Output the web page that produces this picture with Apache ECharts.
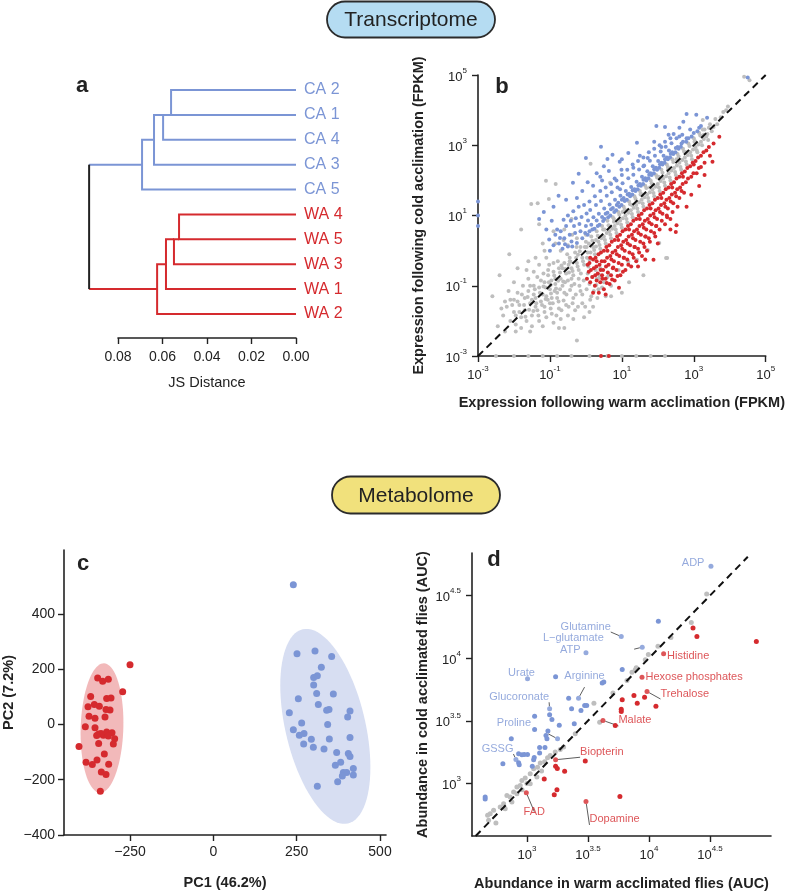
<!DOCTYPE html>
<html lang="en">
<head>
<meta charset="UTF-8">
<title>Transcriptome and metabolome</title>
<script src="https://cdn.jsdelivr.net/npm/echarts@6/dist/echarts.min.js"></script>
<style>
  html, body { margin: 0; padding: 0; background: #fff; }
  #main { width: 787px; height: 892px; }
</style>
</head>
<body>
<div id="main"></div>
<script>
const FONT = '"Liberation Sans", Arial, sans-serif';
const BLUE = '#7b95d5', RED = '#d52a2e', GREY = '#bebebe', INK = '#222';

// ---- (a) dendrogram, leaves listed top to bottom
const leaves = ['CA 2', 'CA 1', 'CA 4', 'CA 3', 'CA 5', 'WA 4', 'WA 5', 'WA 3', 'WA 1', 'WA 2'];
// hclust style: negative = leaf (1-based), positive = earlier merge; last = JS distance
const merges = [
  [-1, -2, 0.0564], [1, -3, 0.0600], [2, -4, 0.0641], [3, -5, 0.0695],
  [-6, -7, 0.0528], [5, -8, 0.0551], [6, -9, 0.0587], [7, -10, 0.0627],
  [4, 8, 0.0934]
];
const jsTicks = [0, 0.02, 0.04, 0.06, 0.08];

// ---- (b) log10 FPKM, [warm, cold]
const bRange = [-3, 5];
const bTicks = [-3, -1, 1, 3, 5];
const bGrey = [
  [-1.45,-1.25],[-1.4,-1.6],[-1.3,-1.05],[-1.25,-1.45],[-1.15,-0.9],[-1.1,-1.3],[-1.05,-0.7],[-1.0,-1.1],[-0.95,-1.35],
  [-0.9,-0.6],[-0.85,-0.95],[-0.8,-1.2],[-0.75,-0.5],[-0.7,-0.8],[-0.65,-1.0],[-0.6,-0.35],[-0.55,-0.65],[-0.5,-0.85],
  [-0.45,-0.2],[-0.4,-0.5],[-0.35,-0.7],[-0.3,-0.05],[-0.25,-0.35],[-0.2,-0.55],[-0.15,0.1],[-0.1,-0.2],[-0.05,-0.4],
  [0.0,0.25],[0.05,-0.05],[0.1,-0.25],[0.15,0.4],[0.2,0.1],[0.25,-0.1],[0.3,0.55],[0.35,0.25],[0.4,0.05],[0.45,0.7],
  [0.5,0.4],[0.55,0.2],[0.6,0.85],[0.65,0.55],[0.7,0.35],[0.75,0.95],[0.8,0.7],[0.85,0.5],[0.9,1.1],[0.95,0.85],
  [1.0,0.65],[1.05,1.25],[1.1,1.0],[1.15,0.8],[1.2,1.4],[1.25,1.15],[1.3,0.95],[1.35,1.55],[1.4,1.3],[1.45,1.1],
  [1.5,1.7],[1.55,1.45],[1.6,1.25],[1.65,1.85],[1.7,1.6],[1.75,1.4],[1.8,2.0],[1.85,1.75],[1.9,1.55],[1.95,2.15],
  [2.0,1.9],[2.05,1.7],[2.1,2.3],[2.15,2.05],[2.2,1.85],[2.25,2.45],[2.3,2.2],[2.35,2.0],[2.4,2.6],[2.45,2.35],
  [2.5,2.15],[2.55,2.75],[2.6,2.5],[2.65,2.3],[2.7,2.9],[2.75,2.65],[2.8,2.45],[2.85,3.05],[2.9,2.8],[2.95,2.6],
  [3.0,3.2],[3.05,2.95],[3.1,2.8],[3.15,3.35],[3.2,3.1],[3.3,3.45],[3.35,3.25],[3.45,3.6],[3.5,3.4],[3.6,3.75],
  [3.75,3.8],[3.9,4.0],[4.4,4.95],[4.55,4.85],
  [-0.98,-0.98],[-0.72,-0.62],[-0.48,-0.4],[-0.22,-0.12],[0.02,0.1],[0.28,0.3],[0.52,0.6],[0.78,0.82],[1.02,1.1],
  [1.28,1.3],[1.52,1.6],[1.78,1.8],[2.02,2.1],[2.28,2.3],[2.52,2.6],[2.78,2.8],[3.02,3.1],[3.28,3.3],
  [-1.18,-1.02],[-1.12,-1.38],[-1.03,-0.9],[-0.97,-1.22],[-0.88,-0.71],[-0.83,-1.08],[-0.77,-0.86],[-0.68,-0.42],
  [-0.63,-0.88],[-0.57,-0.52],[-0.47,-0.62],[-0.43,-0.32],[-0.37,-0.58],[-0.27,-0.2],[-0.23,-0.45],[-0.17,-0.02],
  [-0.08,-0.3],[-0.03,0.1],[0.03,-0.2],[0.08,0.2],[0.13,-0.05],[0.18,0.28],[0.23,0.02],[0.28,0.12],[0.33,0.42],
  [0.38,0.16],[0.43,0.35],[0.48,0.6],[0.53,0.3],[0.58,0.5],[0.63,0.72],[0.68,0.45],[0.73,0.62],[0.78,0.9],
  [0.83,0.6],[0.88,0.78],[0.93,1.02],[0.98,0.74],[1.03,0.92],[1.08,1.18],[1.13,0.9],[1.18,1.08],[1.23,1.32],
  [1.28,1.04],[1.33,1.22],[1.38,1.48],[1.43,1.2],[1.48,1.38],[1.53,1.62],[1.58,1.34],[1.63,1.52],[1.68,1.78],
  [1.73,1.5],[1.78,1.66],[1.83,1.92],[1.88,1.64],[1.93,1.82],[1.98,2.08],[2.03,1.8],[2.08,1.98],[2.13,2.22],
  [2.18,1.94],[2.23,2.12],[2.28,2.38],[2.33,2.08],[2.38,2.28],[2.43,2.52],[2.48,2.24],[2.53,2.42],[2.58,2.68],
  [2.63,2.38],[2.68,2.58],[2.73,2.82],[2.78,2.54],[2.83,2.72],[2.88,2.98],[2.93,2.7],[2.98,2.88],[3.03,3.12],
  [3.08,2.86],[3.13,3.02],[3.18,3.28],[3.23,3.0],[3.28,3.18],[3.38,3.32],[3.42,3.5],[3.55,3.52],[3.65,3.6],
  [3.82,3.95],[3.95,4.1],[3.4,3.15],[3.25,3.45],
  [-2.3,-1.85],[-2.2,-1.6],[-2.1,-2.0],[-2.0,-1.4],[-2.0,-1.75],[-1.95,-2.1],[-1.9,-1.2],[-1.85,-1.55],[-1.8,-1.9],
  [-1.8,-2.2],[-1.75,-1.0],[-1.7,-1.35],[-1.7,-1.7],[-1.65,-2.0],[-1.6,-0.8],[-1.6,-1.15],[-1.55,-1.5],[-1.5,-1.85],
  [-1.5,-2.15],[-1.45,-0.6],[-1.45,-1.0],[-1.4,-1.35],[-1.35,-1.7],[-1.3,-2.0],[-1.3,-0.4],[-1.25,-0.85],[-1.2,-1.25],
  [-1.15,-1.6],[-1.1,-1.9],[-1.1,-0.2],[-1.05,-0.55],[-1.0,-1.5],[-0.95,-1.8],[-0.9,-2.05],[-0.9,-0.35],[-0.85,-0.8],
  [-0.8,-1.35],[-0.75,-1.65],[-0.7,-1.95],[-0.7,0.0],[-0.65,-0.5],[-0.6,-1.2],[-0.55,-1.55],[-0.5,-1.85],[-0.5,0.15],
  [-0.45,-0.3],[-0.4,-1.0],[-0.35,-1.35],[-0.3,-1.7],[-0.25,0.35],[-0.2,-0.8],[-0.15,-1.15],[-0.1,-1.5],[-0.05,-1.9],
  [0.0,0.45],[0.05,-0.65],[0.1,-0.95],[0.15,-1.3],[0.2,-1.6],[0.3,-0.8],[0.35,-1.1],[0.4,-0.5],[0.5,-0.9],[0.55,-1.3],
  [-2.05,-1.55],[-1.95,-1.85],[-1.9,-1.45],[-1.85,-1.75],[-1.78,-1.25],[-1.72,-1.55],[-1.68,-1.88],[-1.62,-1.32],
  [-1.58,-1.68],[-1.55,-1.0],[-1.5,-1.4],[-1.46,-1.72],[-1.42,-1.1],[-1.38,-1.5],[-1.35,-0.75],[-1.32,-1.85],
  [-1.28,-1.2],[-1.22,-1.55],[-1.18,-0.65],[-1.15,-1.75],[-1.12,-1.05],[-1.06,-1.4],[-1.02,-0.4],[-0.98,-1.65],
  [-0.96,-0.85],[-0.92,-1.5],[-0.87,-1.15],[-0.82,-1.85],[-0.78,-0.3],[-0.76,-1.45],[-0.72,-1.1],[-0.68,-1.7],
  [-0.62,-1.42],[-0.58,-0.9],[-0.54,-1.25],[-0.52,-0.1],[-0.48,-1.6],[-0.44,-1.12],[-0.4,-0.8],[-0.37,-1.5],
  [-0.32,-0.95],[-0.28,-1.25],[-0.26,0.1],[-0.22,-1.6],[-0.18,-1.0],[-0.14,-0.65],[-0.1,-1.25],[-0.06,-0.85],
  [-0.02,-1.6],[0.02,-1.1],[0.07,-0.45],[0.12,-1.4],[0.17,-0.75],[0.22,-1.15],[0.27,-0.55],[0.32,-1.35],
  [0.38,-0.7],[0.45,-1.05],[0.6,-0.75],[0.7,-1.0],[-1.65,-0.55],[-1.4,-0.2],[-1.15,0.0],[-0.85,0.2],[-0.62,0.3],
  [-0.38,0.45],[-2.25,-1.45],[-2.15,-1.15],[-2.35,-1.65],[-1.95,-2.3],[-1.55,-2.3],[-1.2,-2.15],[-0.75,-2.2],
  [-0.35,-1.95],[0.1,-1.75],
  [-2.6,-1.3],[-2.45,-2.15],[-2.0,-0.9],[-1.6,-0.3],[-1.2,0.2],[-0.9,0.55],[-0.6,0.6],[-2.4,-0.7],[-1.8,0.6],[-2.13,-0.1],
  [-2.1,-1.4],[-1.11,1.99],[-0.84,1.9],[-1.52,1.33],[-1.34,1.35],[-1.03,1.47],[0.13,2.47],[0.67,1.93],[3.25,3.72],
  [-0.25,-2.56],[-1.3,0.75],[-0.4,0.9],[-1.9,-0.5],[-2.25,-2.3],[-0.6,-2.2],
  [0.29,-0.98],[0.37,-0.78],[0.64,-0.69],[0.91,-0.55],[1.18,-0.32],[1.42,-0.26],[1.72,0.02],[2.04,0.22],[2.23,-0.21],
  [1.2,-0.9],[1.0,-1.2],[0.7,-1.3],[1.6,-0.7],[2.26,-0.21],
  [-2.5,-3],[-2.0,-3],[-1.6,-3],[-1.2,-3],[-0.8,-3],[-0.4,-3],[0.1,-3],[0.6,-3],[1.0,-3],[1.4,-3],[1.8,-3],[2.2,-3]
];
const bBlue = [
  [-1.17,1.1],[-0.76,1.56],[-0.36,1.93],[-0.2,2.19],[0.0,2.64],[0.42,2.96],[0.5,2.4],[1.42,3.07],[1.96,3.55],
  [2.2,3.52],[2.8,3.89],[3.07,3.87],[3.37,3.78],[2.71,3.67],[2.44,3.32],[0.6,2.61],[0.74,2.73],[0.94,2.53],
  [1.18,2.78],[1.72,2.64],[0.64,2.27],[0.99,2.3],[0.4,2.1],[1.32,2.36],[4.5,4.93],[-1.3,0.9],[-0.9,1.25],
  [-0.55,1.45],[-0.1,1.7],[0.2,1.85],[0.3,2.2],[0.8,2.05],[1.0,2.6],[1.5,2.7],[1.9,3.1],[2.3,3.3],[2.6,3.5],
  [-3,1.0],[-3,0.7],[-3,1.4],
  [-1.0,0.0],[-1.02,0.32],[-0.9,0.15],[-0.85,0.45],[-0.75,0.2],[-0.7,0.55],[-0.72,0.36],[-0.6,0.35],[-0.55,0.7],
  [-0.58,0.18],[-0.45,0.45],[-0.42,0.85],[-0.4,0.26],[-0.3,0.5],[-0.28,0.92],[-0.33,0.7],[-0.15,0.55],[-0.12,0.96],
  [-0.18,0.76],[0.0,0.7],[0.02,1.06],[-0.02,0.5],[0.06,0.86],[0.15,0.74],[0.12,1.16],[0.18,0.6],[0.21,0.95],
  [0.3,0.86],[0.28,1.3],[0.33,0.7],[0.36,1.05],[0.45,0.96],[0.42,1.41],[0.48,0.84],[0.51,1.2],[0.6,1.08],
  [0.58,1.56],[0.62,0.95],[0.66,1.31],[0.75,1.21],[0.72,1.66],[0.79,1.1],[0.81,1.45],[0.9,1.36],[0.88,1.8],
  [0.93,1.25],[0.96,1.56],[1.05,1.5],[1.02,1.92],[1.08,1.41],[1.11,1.7],[1.2,1.62],[1.18,2.06],[1.23,1.55],
  [1.26,1.81],[1.35,1.75],[1.32,2.16],[1.38,1.7],[1.41,1.96],[1.5,1.9],[1.48,2.31],[1.53,1.85],[1.56,2.1],
  [1.65,2.06],[1.62,2.42],[1.68,2.0],[1.71,2.26],[1.8,2.2],[1.78,2.56],[1.83,2.15],[1.86,2.4],[1.95,2.36],
  [1.92,2.7],[1.98,2.3],[2.01,2.55],[2.1,2.5],[2.08,2.82],[2.13,2.45],[2.16,2.7],[2.25,2.65],[2.22,2.96],
  [2.28,2.6],[2.31,2.85],[2.4,2.8],[2.38,3.06],[2.43,2.75],[2.55,2.95],[2.52,3.2],[2.58,2.9],[2.7,3.1],
  [2.68,3.3],[2.85,3.2],[2.9,3.45],[3.0,3.35],[3.15,3.5],
  [-0.65,0.05],[-0.5,0.12],[-0.38,0.12],[-0.25,0.22],[-0.1,0.35],[0.05,0.45],[0.1,0.55],[0.24,0.62],[0.38,0.74],
  [0.52,0.9],[0.55,1.05],[0.68,1.0],[0.7,1.18],[0.84,1.15],[0.86,1.3],[0.99,1.3],[1.0,1.45],[1.14,1.45],[1.16,1.6],
  [1.29,1.6],[1.3,1.72],[1.44,1.75],[1.46,1.86],[1.59,1.9],[1.6,2.02],[1.74,2.06],[1.76,2.16],[1.89,2.2],[1.9,2.32],
  [2.04,2.36],[2.06,2.46],[2.19,2.5],[2.2,2.6],[2.34,2.66],[2.36,2.76],[2.49,2.8],[2.5,2.92],[2.64,2.96],[2.66,3.05],
  [2.79,3.1],[2.8,3.2],[2.94,3.25],[3.1,3.4],[3.2,3.55],[-0.8,0.6],[-0.62,0.88],[-0.5,1.0],[-0.35,1.12],[-0.2,1.25],
  [-0.05,1.3],[0.1,1.4],[0.25,1.55],[0.4,1.7],[0.55,1.8],[0.7,1.9],[0.85,2.0],[1.0,2.15],[1.15,2.3],[1.3,2.45],
  [1.45,2.55],[1.6,2.65],[1.75,2.8],[1.9,2.9],[2.05,3.0],[2.2,3.1],[2.35,3.2],[-0.25,1.5],[0.05,1.95],[0.45,2.0],
  [0.95,1.75],[1.6,2.4],[2.1,2.95],[2.6,3.25],[-1.1,0.6],[-0.95,0.85]
];
const bRed = [
  [0.05,-0.4],[0.08,-0.6],[0.03,-0.8],[0.2,-0.25],[0.22,-0.5],[0.18,-0.75],[0.25,-1.0],[0.35,-0.1],[0.38,-0.4],
  [0.33,-0.65],[0.4,-0.9],[0.36,-1.2],[0.5,0.0],[0.52,-0.3],[0.48,-0.55],[0.55,-0.8],[0.5,-1.1],[0.65,0.15],
  [0.68,-0.15],[0.63,-0.4],[0.7,-0.7],[0.66,-0.95],[0.8,0.3],[0.82,0.0],[0.78,-0.3],[0.85,-0.55],[0.8,-0.85],
  [0.92,-1.06],[0.95,0.45],[0.98,0.15],[0.93,-0.15],[1.0,-0.4],[0.96,-0.7],[1.1,0.6],[1.12,0.3],[1.08,0.0],
  [1.15,-0.25],[1.1,-0.55],[1.25,0.75],[1.28,0.45],[1.23,0.15],[1.3,-0.1],[1.26,-0.45],[1.4,0.9],[1.42,0.6],
  [1.38,0.3],[1.45,0.05],[1.4,-0.3],[1.55,1.05],[1.58,0.75],[1.53,0.45],[1.6,0.2],[1.56,-0.15],[1.7,1.2],
  [1.72,0.9],[1.68,0.6],[1.75,0.35],[1.7,0.0],[1.85,1.35],[1.88,1.05],[1.83,0.75],[1.9,0.5],[1.88,-0.26],
  [2.0,1.5],[2.02,1.2],[1.98,0.9],[2.05,0.6],[2.15,1.65],[2.18,1.35],[2.13,1.05],[2.2,0.75],[2.3,1.8],
  [2.32,1.5],[2.28,1.2],[2.35,0.9],[2.45,1.95],[2.48,1.65],[2.43,1.35],[2.5,0.53],[2.52,0.72],[2.6,2.1],
  [2.62,1.8],[2.6,1.5],[2.75,2.25],[2.78,1.95],[2.73,1.65],[2.9,2.4],[2.93,2.1],[2.93,1.59],[3.05,2.55],
  [3.08,2.2],[3.2,2.7],[3.2,2.38],[3.15,1.84],[3.35,2.85],[3.52,2.53],[3.55,3.05],[3.71,3.24],
  [0.12,-0.2],[0.3,-0.3],[0.6,0.0],[0.9,0.3],[1.2,0.6],[1.5,0.9],[1.8,1.2],[2.1,1.5],[2.4,1.8],[2.7,2.1],
  [3.0,2.45],[0.45,-0.7],[0.75,-0.5],[1.05,-0.2],[1.35,0.1],[1.65,0.4],[1.95,0.7],[2.25,1.0],[2.55,1.25],
  [0.1,-0.35],[0.14,-0.55],[0.12,-0.9],[0.27,-0.2],[0.29,-0.45],[0.26,-0.7],[0.3,-0.85],[0.42,-0.05],[0.44,-0.3],
  [0.41,-0.55],[0.46,-0.8],[0.57,0.1],[0.59,-0.2],[0.56,-0.45],[0.61,-0.62],[0.58,-0.92],[0.72,0.25],[0.74,-0.05],
  [0.71,-0.25],[0.76,-0.48],[0.73,-0.82],[0.87,0.4],[0.89,0.1],[0.86,-0.1],[0.91,-0.35],[0.88,-0.72],[1.02,0.55],
  [1.04,0.25],[1.01,0.05],[1.06,-0.2],[1.03,-0.6],[1.17,0.7],[1.19,0.4],[1.16,0.2],[1.21,-0.05],[1.18,-0.4],
  [1.32,0.85],[1.34,0.55],[1.31,0.35],[1.36,0.1],[1.33,-0.2],[1.47,1.0],[1.49,0.7],[1.46,0.5],[1.51,0.25],
  [1.48,-0.05],[1.62,1.15],[1.64,0.85],[1.61,0.65],[1.66,0.4],[1.63,0.1],[1.77,1.3],[1.79,1.0],[1.76,0.8],
  [1.81,0.55],[1.78,0.25],[1.92,1.45],[1.94,1.15],[1.91,0.95],[1.96,0.7],[1.93,0.4],[2.07,1.6],[2.09,1.3],
  [2.06,1.1],[2.11,0.85],[2.22,1.75],[2.24,1.45],[2.21,1.25],[2.26,0.95],[2.37,1.9],[2.39,1.6],[2.36,1.4],
  [2.41,1.1],[2.52,2.05],[2.54,1.75],[2.51,1.55],[2.67,2.2],[2.69,1.9],[2.66,1.7],[2.82,2.35],[2.84,2.05],
  [2.97,2.5],[2.99,2.2],[3.12,2.65],[3.14,2.35],[3.27,2.8],[3.3,2.5],[3.42,2.95],[3.45,2.7],[0.2,-1.2],
  [0.55,-1.25],[1.45,-0.45],[1.65,-0.25],[2.0,0.2],[2.35,0.6],[2.8,1.25],[3.3,2.15],
  [0.42,-3],[0.64,-3]
];

// ---- (c) PCA scores [PC1, PC2]
const cTicksX = [-250, 0, 250, 500];
const cTicksY = [-400, -200, 0, 200, 400];
const cRed = [
  [-250,216],[-272,118],[-403,-80],[-347,168],[-332,156],[-315,163],[-368,101],[-376,64],[-357,72],[-342,66],
  [-320,94],[-307,96],[-322,54],[-310,52],[-373,30],[-355,22],[-325,27],[-384,-8],[-355,-12],[-344,-35],
  [-330,-39],[-320,-27],[-304,-30],[-296,-52],[-300,-71],[-344,-69],[-327,-107],[-382,-137],[-363,-145],
  [-349,-129],[-314,-144],[-336,-172],[-322,-181],[-339,-242],[-337,-33],[-315,-42],[-350,-40]
];
const cBlue = [
  [240,505],[251,256],[305,266],[355,246],[324,207],[301,170],[312,176],[301,143],[310,112],[360,110],
  [255,93],[315,72],[340,51],[347,54],[410,49],[228,42],[403,27],[265,5],[343,0],[240,-19],[258,-39],
  [272,-33],[294,-54],[348,-53],[410,-47],[271,-71],[300,-83],[332,-89],[370,-102],[405,-105],[410,-116],
  [382,-137],[366,-148],[420,-159],[390,-174],[400,-174],[387,-187],[420,-183],[373,-207],[312,-224]
];
// group ellipses: centre, end of major semi-axis, minor semi-axis (PC1 units)
const cEllipses = [
  { group: 'warm', center: [-334, -13], majorEnd: [-328, 221], minor: 64 },
  { group: 'cold', center: [336, -7], majorEnd: [268, 344], minor: 120 }
];

// ---- (d) log10 AUC, [warm, cold]
const dRange = [2.58, 4.81];
const dTicks = [3, 3.5, 4, 4.5];
const dGrey = [
  [2.727,2.785],[2.678,2.745],[2.746,2.684],[2.686,2.705],[2.809,2.838],[2.781,2.811],[2.836,2.904],[2.863,2.891],
  [2.891,2.931],[2.918,2.971],[2.945,2.984],[2.959,3.024],[2.986,3.043],[3.027,3.077],[3.055,3.117],[3.087,3.130],
  [3.109,3.162],[3.145,3.173],[3.169,3.205],[3.191,3.223],[3.232,3.250],[3.273,3.271],[3.301,3.290],[3.396,3.396],
  [3.549,3.641],[3.596,3.489],[3.705,3.721],[3.820,3.822],[3.896,3.923],[3.995,4.029],[4.074,4.096],[4.180,4.165],
  [4.347,4.285],[4.473,4.513],[3.888,3.907],[3.970,3.987],[3.861,3.888],[2.918,2.918],[2.877,2.851],[3.027,2.997],
  [3.082,3.051],[2.699,2.758],[2.822,2.798],[2.96,2.95],[3.0,3.0],[3.12,3.1]
];
const dBlue = [
  [4.077,4.295],[3.781,3.910],[3.235,3.851],[3.617,3.801],[3.63,3.81],[3.342,3.681],[3.063,3.537],[3.186,3.548],
  [3.205,3.511],[3.265,3.465],[3.366,3.596],[3.443,3.582],[3.473,3.622],[3.49,3.622],[3.388,3.476],[3.063,3.431],
  [3.172,3.418],[3.156,3.383],[3.164,3.356],[2.872,3.356],[3.104,3.287],[3.148,3.287],[3.104,3.242],[2.932,3.237],
  [2.959,3.229],[2.978,3.231],[3.005,3.231],[2.932,3.165],[2.937,3.149],[2.803,3.157],[3.060,3.207],[3.055,3.189],
  [3.044,3.138],[2.658,2.891],[2.658,2.875]
];
const dRed = [
  [4.880,4.133],[4.361,4.242],[4.393,4.173],[3.877,3.702],[3.964,3.689],[3.904,3.641],[4.057,3.617],[3.781,3.668],
  [3.773,3.593],[3.773,3.574],[3.724,3.463],[3.478,3.178],[3.235,3.138],[3.249,3.120],[3.309,3.098],[3.142,3.035],
  [3.246,2.949],[3.224,2.910],[3.762,2.896]
];
const dBlueNamed = [
  ['ADP', 4.508, 4.734], ['Glutamine', 3.773, 4.173], ['L\u2212glutamate', 3.945, 4.088], ['ATP', 3.484, 4.043],
  ['Urate', 3.005, 3.835], ['Arginine', 3.423, 3.681], ['Glucoronate', 3.186, 3.596], ['Proline', 3.251, 3.356],
  ['GSSG', 2.910, 3.191]
];
const dRedNamed = [
  ['Histidine', 4.120, 4.035], ['Hexose phosphates', 3.943, 3.848], ['Trehalose', 3.984, 3.734],
  ['Malate', 3.623, 3.503], ['Biopterin', 3.235, 3.189], ['FAD', 2.995, 2.926], ['Dopamine', 3.484, 2.856]
];
// label placement: side, dx, dy (px), leader line
const dLabelPlace = {
  'ADP': ['left', 0, -3, false],
  'Glutamine': ['left', -4, -10, true],
  'L\u2212glutamate': ['left', -32, -9, true],
  'ATP': ['left', 1, -3, false],
  'Urate': ['top', -6, 6, false],
  'Arginine': ['top', 6, -10, true],
  'Glucoronate': ['left', 6, -12, true],
  'Proline': ['left', -20, -16, true],
  'GSSG': ['left', 4, -11, true],
  'Histidine': ['right', -3, 2, false],
  'Hexose phosphates': ['right', -3, 0, false],
  'Trehalose': ['right', 7, 2, true],
  'Malate': ['right', 9, 0, true],
  'Biopterin': ['right', 18, -8, true],
  'FAD': ['bottom', 8, 7, true],
  'Dopamine': ['right', -3, 18, true]
};

// ---------- build dendrogram segments
const nodes = [];
const groupOf = name => name.slice(0, 2);
const colorOf = g => (g === 'CA' ? BLUE : g === 'WA' ? RED : INK);
function nodeOf(id) {
  if (id < 0) return { h: 0, y: -id - 1, group: groupOf(leaves[-id - 1]) };
  return nodes[id - 1];
}
const treeLines = [];
merges.forEach(([l, r, h]) => {
  const a = nodeOf(l), b = nodeOf(r);
  const group = a.group === b.group ? a.group : 'root';
  if (group !== 'root') {
    treeLines.push({ coords: [[a.h, a.y], [h, a.y], [h, b.y], [b.h, b.y]], lineStyle: { color: colorOf(group) } });
  } else {
    treeLines.push({ coords: [[a.h, a.y], [h, a.y]], lineStyle: { color: colorOf(a.group) } });
    treeLines.push({ coords: [[b.h, b.y], [h, b.y]], lineStyle: { color: colorOf(b.group) } });
    treeLines.push({ coords: [[h, a.y], [h, b.y]], lineStyle: { color: INK } });
  }
  nodes.push({ h, y: (a.y + b.y) / 2, group });
});

// ---------- shared axis styling
const axisLine = { show: true, onZero: false, lineStyle: { color: INK, width: 1.6 } };
const nameStyle = { color: INK, fontFamily: FONT, fontSize: 14.5, fontWeight: 'bold' };
const powRich = {
  b: { fontSize: 13, color: INK, fontFamily: FONT, lineHeight: 17, verticalAlign: 'bottom' },
  s: { fontSize: 8, color: INK, fontFamily: FONT, lineHeight: 17, verticalAlign: 'top' }
};
const pow10 = v => '{b|10}{s|' + (+v.toFixed(1)) + '}';
const signed = v => (v < 0 ? '\u2212' + (-v) : String(v));

function tickedAxis(o) {
  return {
    type: 'value', gridIndex: o.grid, min: o.min, max: o.max, inverse: !!o.inverse,
    name: o.name, nameLocation: 'middle', nameGap: o.nameGap, nameTextStyle: o.nameStyle || nameStyle,
    axisLine: axisLine,
    axisTick: { show: true, length: 6, customValues: o.ticks, lineStyle: { color: INK, width: 1.4 } },
    axisLabel: {
      customValues: o.ticks, formatter: o.fmt, margin: o.margin,
      color: INK, fontFamily: FONT, fontSize: o.fontSize || 14, rich: o.rich
    },
    splitLine: { show: false }
  };
}
const hidden = (grid, extra) => Object.assign({ type: 'value', gridIndex: grid, show: false, splitLine: { show: false } }, extra);

function scatter(axis, data, color, size, z) {
  return {
    type: 'scatter', xAxisIndex: axis, yAxisIndex: axis, data: data, symbolSize: size,
    itemStyle: { color: color, opacity: 1 }, silent: true, z: z || 2, large: false
  };
}
function identity(axis, range) {
  return {
    type: 'line', xAxisIndex: axis, yAxisIndex: axis, data: range.map(v => [v, v]), symbol: 'none',
    lineStyle: { color: '#111', width: 2, type: [7, 5] }, silent: true, z: 5
  };
}
function ellipseSeries(e) {
  return {
    type: 'custom', xAxisIndex: 3, yAxisIndex: 3, silent: true, z: 1,
    data: [e.center],
    renderItem: (params, api) => {
      const c = api.coord(e.center), m = api.coord(e.majorEnd);
      const ux = m[0] - c[0], uy = m[1] - c[1];
      const len = Math.hypot(ux, uy);
      const minorPx = api.size([e.minor, 0])[0];
      const vx = -uy / len * minorPx, vy = ux / len * minorPx;
      const pts = [];
      for (let k = 0; k < 90; k++) {
        const t = k / 90 * 2 * Math.PI;
        pts.push([c[0] + ux * Math.cos(t) + vx * Math.sin(t), c[1] + uy * Math.cos(t) + vy * Math.sin(t)]);
      }
      return { type: 'polygon', shape: { points: pts }, style: { fill: e.group === 'warm' ? '#f2b9ba' : '#d7def2' } };
    }
  };
}
function namedSeries(list, color) {
  return {
    type: 'scatter', xAxisIndex: 4, yAxisIndex: 4, symbolSize: 5, silent: true, z: 3,
    itemStyle: { color: color },
    labelLine: { show: false, lineStyle: { color: '#333', width: 0.8 } },
    data: list.map(([name, x, y]) => {
      const p = dLabelPlace[name];
      return {
        name: name, value: [x, y],
        label: { show: true, position: p[0], distance: 4, offset: [p[1], p[2]], formatter: '{b}',
                 color: color, fontFamily: FONT, fontSize: 11 },
        labelLine: { show: p[3] }
      };
    })
  };
}
function letter(text, x, y) {
  return { type: 'text', x: x, y: y, z: 10,
    style: { text: text, fontFamily: FONT, fontSize: 22, fontWeight: 'bold', fill: INK, align: 'center', verticalAlign: 'middle' } };
}
function pill(text, x, y, w, h, fill) {
  return [
    { type: 'rect', shape: { x: x, y: y, width: w, height: h, r: h / 2 }, z: 10,
      style: { fill: fill, stroke: '#2b2b2b', lineWidth: 1.8 } },
    { type: 'text', x: x + w / 2, y: y + h / 2 + 1, z: 11,
      style: { text: text, fontFamily: FONT, fontSize: 21, fill: INK, align: 'center', verticalAlign: 'middle' } }
  ];
}

const chart = echarts.init(document.getElementById('main'), null, { renderer: 'canvas' });
chart.setOption({
  animation: false,
  backgroundColor: '#fff',
  grid: [
    { left: 74.5, top: 90, width: 221.5, height: 224 },   // a tree
    { left: 118, top: 337, width: 178, height: 1 },       // a scale
    { left: 478, top: 75, width: 297, height: 281 },      // b
    { left: 64, top: 550, width: 322, height: 285 },      // c
    { left: 472, top: 553, width: 299, height: 283 }      // d
  ],
  xAxis: [
    hidden(0, { min: 0, max: 0.1, inverse: true }),
    tickedAxis({ grid: 1, min: 0, max: 0.08, inverse: true, ticks: jsTicks, fmt: v => v.toFixed(2), margin: 12,
      name: 'JS Distance', nameGap: 37, nameStyle: { color: INK, fontFamily: FONT, fontSize: 14.5 } }),
    tickedAxis({ grid: 2, min: bRange[0], max: bRange[1], ticks: bTicks, fmt: pow10, rich: powRich, margin: 9,
      name: 'Expression following warm acclimation (FPKM)', nameGap: 39 }),
    tickedAxis({ grid: 3, min: -448, max: 518, ticks: cTicksX, fmt: signed, margin: 10,
      name: 'PC1 (46.2%)', nameGap: 40 }),
    tickedAxis({ grid: 4, min: 2.55, max: 5.0, ticks: dTicks, fmt: pow10, rich: powRich, margin: 9,
      name: 'Abundance in warm acclimated flies (AUC)', nameGap: 40 })
  ],
  yAxis: [
    { type: 'category', gridIndex: 0, data: leaves, inverse: true, boundaryGap: false, position: 'right',
      axisLine: { show: false }, axisTick: { show: false }, splitLine: { show: false },
      axisLabel: { margin: 8, fontFamily: FONT, fontSize: 16, color: (v) => colorOf(groupOf(v)) } },
    hidden(1, { min: 0, max: 1 }),
    tickedAxis({ grid: 2, min: bRange[0], max: bRange[1], ticks: bTicks, fmt: pow10, rich: powRich, margin: 11,
      name: 'Expression following cold acclimation (FPKM)', nameGap: 52 }),
    tickedAxis({ grid: 3, min: -400, max: 631, ticks: cTicksY, fmt: signed, margin: 9,
      name: 'PC2 (7.2%)', nameGap: 48 }),
    tickedAxis({ grid: 4, min: 2.58, max: 4.84, ticks: dTicks, fmt: pow10, rich: powRich, margin: 11,
      name: 'Abundance in cold acclimated flies (AUC)', nameGap: 42 })
  ],
  series: [
    { type: 'lines', coordinateSystem: 'cartesian2d', xAxisIndex: 0, yAxisIndex: 0, polyline: true,
      data: treeLines, lineStyle: { width: 2, opacity: 1 }, silent: true },
    scatter(2, bGrey, GREY, 4, 2),
    scatter(2, bBlue, BLUE, 4, 3),
    scatter(2, bRed, RED, 4, 3),
    identity(2, bRange),
    ellipseSeries(cEllipses[0]),
    ellipseSeries(cEllipses[1]),
    scatter(3, cRed, RED, 7, 3),
    scatter(3, cBlue, BLUE, 7, 3),
    scatter(4, dGrey, GREY, 5, 2),
    scatter(4, dBlue, BLUE, 5, 3),
    scatter(4, dRed, RED, 5, 3),
    namedSeries(dBlueNamed, BLUE),
    namedSeries(dRedNamed, RED),
    identity(4, dRange)
  ],
  graphic: [].concat(
    pill('Transcriptome', 327, 1.5, 168, 36, '#b5dcf2'),
    pill('Metabolome', 332, 476.5, 168, 37, '#f1e17c'),
    [letter('a', 82, 86), letter('b', 502, 87), letter('c', 83, 564), letter('d', 494, 560)]
  )
});
</script>
</body>
</html>
